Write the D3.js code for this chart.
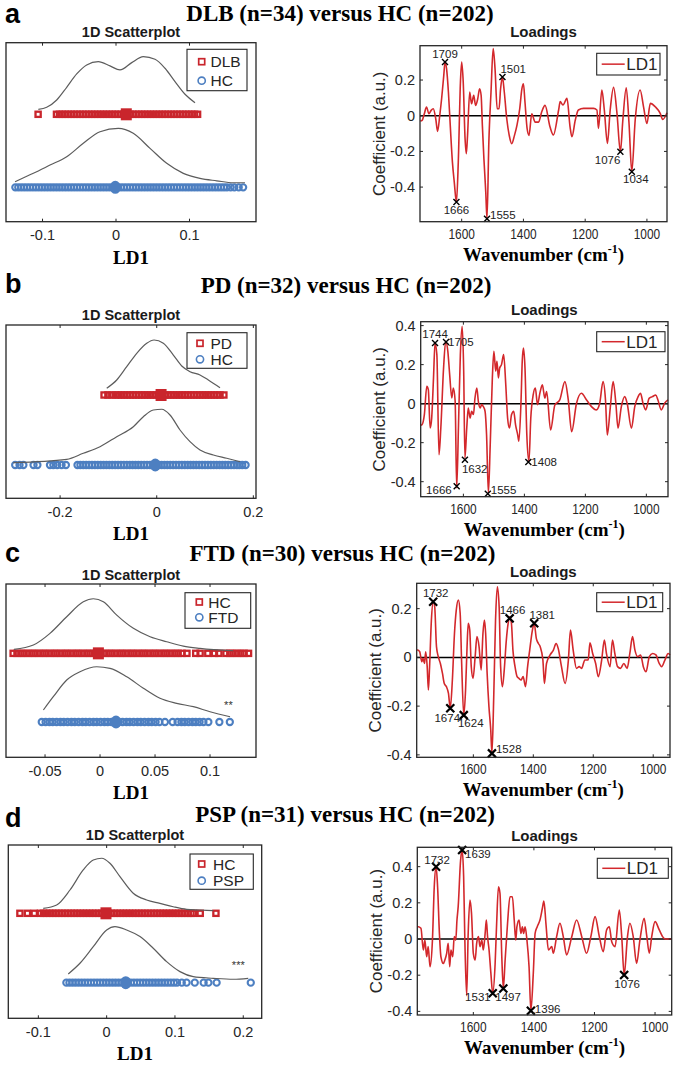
<!DOCTYPE html>
<html><head><meta charset="utf-8">
<script src="https://cdn.jsdelivr.net/npm/d3@7"></script>
<style>body{margin:0;background:#fff}</style>
</head><body>
<script>
// ================= DATA =================
const panelLetters = ['a','b','c','d'];
const titles = ['DLB (n=34) versus HC (n=202)','PD (n=32) versus HC (n=202)','FTD (n=30) versus HC (n=202)','PSP (n=31) versus HC (n=202)'];
const groupNames = [['DLB','HC'],['PD','HC'],['HC','FTD'],['HC','PSP']];
const sigLabels = ['', '', '**', '***'];
const sigPositions = [null, null, [0.1167, 1.28], [0.1927, 1.289]];
const scatterTicks = [[-0.1,0,0.1],[-0.2,0,0.2],[-0.05,0,0.05,0.1],[-0.1,0,0.1,0.2]];
const loadXTicks = [1600,1400,1200,1000];
const loadYTicks = [[-0.4,-0.2,0,0.2],[-0.4,-0.2,0,0.2,0.4],[-0.4,-0.2,0,0.2],[-0.4,-0.2,0,0.2,0.4]];
const legendLoad = 'LD1';

// scatter values (LD1 scores)
const ptsA_top = [-0.106,-0.081,-0.077,-0.073,-0.069,-0.065,-0.061,-0.057,-0.053,-0.049,-0.045,-0.041,-0.037,-0.033,-0.029,-0.025,-0.021,-0.017,-0.013,-0.009,-0.005,-0.001,0.003,0.007,0.011,0.015,0.019,0.023,0.027,0.031,0.035,0.039,0.043,0.047,0.051,0.055,0.059,0.063,0.067,0.071,0.075,0.079,0.083,0.087,0.091,0.095,0.099,0.103,0.107,0.111];
const ptsA_bot = [-0.137,-0.133,-0.129,-0.125,-0.121,-0.117,-0.113,-0.109,-0.105,-0.101,-0.097,-0.093,-0.089,-0.085,-0.081,-0.077,-0.073,-0.069,-0.065,-0.061,-0.057,-0.053,-0.049,-0.045,-0.041,-0.037,-0.033,-0.029,-0.025,-0.021,-0.017,-0.013,-0.009,-0.005,-0.001,0.003,0.007,0.011,0.015,0.019,0.023,0.027,0.031,0.035,0.039,0.043,0.047,0.051,0.055,0.059,0.063,0.067,0.071,0.075,0.079,0.083,0.087,0.091,0.095,0.099,0.103,0.107,0.111,0.115,0.119,0.123,0.127,0.131,0.135,0.139,0.143,0.147,0.151,0.156,0.161,0.167,0.173];
const ptsB_top = [-0.109,-0.101,-0.093,-0.085,-0.079,-0.073,-0.067,-0.061,-0.055,-0.049,-0.043,-0.037,-0.031,-0.025,-0.019,-0.013,-0.007,-0.001,0.005,0.011,0.017,0.023,0.029,0.035,0.041,0.047,0.053,0.059,0.065,0.071,0.077,0.083,0.089,0.095,0.101,0.107,0.113,0.119,0.125,0.131,0.139];
const ptsB_bot = [-0.293,-0.284,-0.276,-0.255,-0.247,-0.221,-0.214,-0.206,-0.197,-0.188,-0.164,-0.158,-0.152,-0.146,-0.140,-0.134,-0.128,-0.122,-0.116,-0.110,-0.104,-0.098,-0.092,-0.086,-0.080,-0.074,-0.068,-0.062,-0.056,-0.050,-0.044,-0.038,-0.032,-0.026,-0.020,-0.014,-0.008,-0.002,0.004,0.010,0.016,0.022,0.028,0.034,0.040,0.046,0.052,0.058,0.064,0.070,0.076,0.082,0.088,0.094,0.100,0.106,0.112,0.118,0.124,0.130,0.136,0.142,0.148,0.154,0.160,0.166,0.171,0.177,0.184];
const ptsC_top = [-0.079,-0.0755,-0.072,-0.069,-0.0655,-0.062,-0.059,-0.0555,-0.052,-0.049,-0.0455,-0.042,-0.039,-0.0355,-0.032,-0.029,-0.0255,-0.022,-0.019,-0.0155,-0.012,-0.009,-0.0055,-0.002,0.001,0.0045,0.008,0.011,0.0145,0.018,0.021,0.0245,0.028,0.031,0.0345,0.038,0.041,0.0445,0.048,0.051,0.0545,0.058,0.061,0.0645,0.068,0.071,0.0745,0.079,0.087,0.091,0.098,0.104,0.108,0.1145,0.118,0.121,0.1245,0.128,0.131,0.135];
const ptsC_bot = [-0.053,-0.0495,-0.046,-0.043,-0.0395,-0.036,-0.033,-0.0295,-0.026,-0.023,-0.0195,-0.016,-0.013,-0.0095,-0.006,-0.003,0.0005,0.004,0.007,0.0105,0.014,0.017,0.0205,0.024,0.027,0.0305,0.034,0.037,0.0405,0.044,0.047,0.0505,0.054,0.059,0.066,0.0705,0.074,0.077,0.0805,0.084,0.087,0.0905,0.094,0.0985,0.1085,0.118];
const ptsD_top = [-0.127,-0.116,-0.106,-0.097,-0.0925,-0.088,-0.0835,-0.079,-0.0745,-0.070,-0.0655,-0.061,-0.0565,-0.052,-0.0475,-0.043,-0.0385,-0.034,-0.0295,-0.025,-0.0205,-0.016,-0.0115,-0.007,-0.0025,0.002,0.0065,0.011,0.0155,0.020,0.0245,0.029,0.0335,0.038,0.0425,0.047,0.0515,0.056,0.0605,0.065,0.0695,0.074,0.0785,0.083,0.0875,0.092,0.0965,0.101,0.1055,0.110,0.1145,0.119,0.1235,0.127,0.137,0.160];
const ptsD_bot = [-0.059,-0.0545,-0.050,-0.0455,-0.041,-0.0365,-0.032,-0.0275,-0.023,-0.0185,-0.014,-0.0095,-0.005,-0.0005,0.004,0.0085,0.013,0.0175,0.022,0.0265,0.031,0.0355,0.040,0.0445,0.049,0.0535,0.058,0.0625,0.067,0.0715,0.076,0.0805,0.085,0.0895,0.094,0.0985,0.103,0.110,0.117,0.129,0.142,0.149,0.161,0.211];
const groupMeans = [[0.014,-0.001],[0.009,-0.003],[-0.0015,0.0145],[-0.001,0.028]];

// density curves [LD1, height above row]
const densA_top = [[-0.1057,0.068],[-0.0943,0.096],[-0.0807,0.196],[-0.0671,0.37],[-0.0535,0.552],[-0.0399,0.675],[-0.0241,0.72],[-0.0082,0.662],[0.0054,0.607],[0.0214,0.707],[0.0371,0.789],[0.0531,0.753],[0.0667,0.63],[0.0803,0.447],[0.0939,0.274],[0.1075,0.159]];
const densA_bot = [[-0.1374,0.077],[-0.1125,0.192],[-0.0898,0.305],[-0.0671,0.419],[-0.0445,0.603],[-0.0218,0.762],[0.0031,0.808],[0.0235,0.74],[0.0463,0.534],[0.069,0.329],[0.0916,0.192],[0.1143,0.123],[0.1371,0.09],[0.1596,0.063],[0.1755,0.063]];
const densB_top = [[-0.1035,0.096],[-0.0828,0.214],[-0.0621,0.404],[-0.0414,0.596],[-0.0207,0.739],[-0.0056,0.786],[0.0137,0.739],[0.0344,0.571],[0.0518,0.414],[0.0689,0.333],[0.0896,0.286],[0.1068,0.214],[0.131,0.104]];
const densB_bot = [[-0.2969,0.033],[-0.1863,0.081],[-0.152,0.167],[-0.1174,0.261],[-0.0828,0.404],[-0.0484,0.547],[-0.0277,0.69],[-0.007,0.786],[0.0104,0.796],[0.0275,0.714],[0.0482,0.5],[0.0689,0.333],[0.0896,0.214],[0.1172,0.143],[0.1449,0.096],[0.1725,0.047]];
const densC_top = [[-0.0782,0.058],[-0.0606,0.121],[-0.0455,0.291],[-0.0303,0.533],[-0.0152,0.751],[-0.0061,0.795],[0.003,0.751],[0.0152,0.557],[0.0303,0.364],[0.0455,0.242],[0.0606,0.169],[0.0757,0.106],[0.0909,0.073],[0.1212,0.038]];
const densC_bot = [[-0.0515,0.175],[-0.0425,0.368],[-0.0303,0.611],[-0.0182,0.732],[-0.003,0.805],[0.0091,0.782],[0.0243,0.659],[0.0394,0.491],[0.0545,0.345],[0.0697,0.272],[0.0848,0.223],[0.1,0.15],[0.1182,0.077]];
const densD_top = [[-0.0928,0.072],[-0.0732,0.12],[-0.0537,0.336],[-0.0343,0.625],[-0.0196,0.769],[-0.0073,0.794],[0.0048,0.722],[0.0195,0.528],[0.0389,0.289],[0.0586,0.192],[0.078,0.144],[0.0975,0.095],[0.1171,0.058],[0.1366,0.048],[0.1561,0.038]];
const densD_bot = [[-0.0562,0.126],[-0.0391,0.28],[-0.0196,0.519],[0,0.76],[0.0122,0.808],[0.0293,0.76],[0.0488,0.664],[0.0682,0.496],[0.0878,0.303],[0.1073,0.159],[0.1268,0.087],[0.1561,0.063],[0.1854,0.049],[0.2073,0.063]];

// loadings [wavenumber axis value, coefficient]
const loadA = [[1734,-0.03],[1728,-0.026],[1721,0.011],[1714,0.049],[1706,0.011],[1699,0.03],[1692,0.039],[1684,-0.017],[1678,-0.088],[1671,0.002],[1665,0.095],[1658,0.226],[1654,0.301],[1649,0.264],[1643,0.133],[1637,-0.054],[1630,-0.26],[1624,-0.372],[1617,-0.484],[1611,-0.26],[1604,0.189],[1600,0.301],[1595,0.189],[1589,-0.129],[1585,-0.213],[1581,-0.11],[1574,0.133],[1568,0.067],[1561,0.114],[1555,0.058],[1548,0.095],[1542,0.151],[1537,0.114],[1533,-0.054],[1528,-0.241],[1522,-0.428],[1518,-0.578],[1512,-0.148],[1505,0.133],[1498,0.376],[1492,0.264],[1485,0.039],[1479,0.039],[1474,0.151],[1468,0.217],[1462,0.133],[1454,-0.017],[1446,-0.11],[1438,-0.157],[1429,-0.11],[1421,-0.054],[1412,0.039],[1405,0.151],[1400,0.179],[1395,0.077],[1388,-0.073],[1382,-0.11],[1373,0.011],[1362,-0.036],[1351,-0.036],[1341,0.021],[1330,0.058],[1314,-0.062],[1303,-0.108],[1286,0.032],[1281,0.079],[1272,0.06],[1259,0.097],[1249,-0.062],[1243,-0.118],[1232,-0.024],[1222,0.032],[1205,0.041],[1173,0.041],[1162,0.032],[1157,-0.071],[1146,0.144],[1138,0.032],[1128,-0.155],[1119,0.032],[1108,0.159],[1097,0.013],[1086,-0.202],[1078,-0.024],[1067,0.157],[1058,-0.043],[1049,-0.314],[1038,-0.024],[1022,0.144],[1011,0.05],[1000,-0.043],[989,0.069],[973,0.05],[957,0.013],[949,-0.021],[935,0.017]];
const loadB = [[1740,-0.11],[1736,-0.108],[1728,-0.056],[1720,0.089],[1715,0.072],[1709,-0.125],[1704,-0.074],[1698,0.132],[1693,0.311],[1687,0.251],[1680,-0.262],[1674,-0.125],[1665,0.183],[1658,0.32],[1651,0.268],[1645,0.149],[1638,0.029],[1633,0.08],[1627,0.012],[1622,-0.432],[1616,-0.108],[1610,0.251],[1604,0.397],[1599,0.166],[1595,-0.279],[1589,-0.125],[1584,-0.022],[1578,-0.074],[1573,-0.039],[1567,-0.056],[1562,0.029],[1556,0.08],[1551,0.012],[1545,-0.022],[1540,-0.005],[1535,-0.014],[1529,-0.039],[1524,-0.159],[1518,-0.458],[1512,-0.21],[1505,0.132],[1500,0.268],[1494,0.166],[1490,0.217],[1485,0.132],[1481,0.183],[1475,0.2],[1468,0.251],[1461,0.097],[1455,-0.074],[1449,-0.125],[1442,-0.056],[1435,-0.039],[1429,-0.108],[1422,-0.159],[1418,-0.193],[1411,0.012],[1407,0.217],[1403,0.285],[1398,0.183],[1392,-0.159],[1385,-0.296],[1379,-0.074],[1371,0.046],[1364,0.08],[1357,-0.005],[1349,0.055],[1341,0.097],[1333,0.029],[1327,0.062],[1314,-0.135],[1300,-0.007],[1284,0.019],[1267,0.113],[1256,0.019],[1245,-0.144],[1229,0.002],[1213,0.053],[1196,0.019],[1180,-0.015],[1164,-0.032],[1153,0.002],[1142,0.113],[1134,0.019],[1128,-0.161],[1118,-0.015],[1109,0.113],[1100,0.002],[1093,-0.126],[1082,-0.015],[1071,0.036],[1063,0.002],[1049,-0.126],[1038,-0.015],[1027,0.036],[1019,0.053],[1011,0.002],[1002,-0.032],[991,0.027],[980,0.036],[969,0.044],[962,0.019],[951,-0.032],[940,0.002],[929,0.019]];
const loadC = [[1788,0.03],[1786,0.03],[1779,0.023],[1772,-0.018],[1768,-0.004],[1763,-0.025],[1759,0.023],[1754,-0.038],[1750,-0.134],[1746,-0.038],[1740,0.153],[1734,0.228],[1729,0.208],[1723,0.044],[1717,0.003],[1710,-0.025],[1703,-0.066],[1697,-0.107],[1690,-0.12],[1683,-0.148],[1677,-0.209],[1670,-0.093],[1663,0.098],[1657,0.194],[1650,0.235],[1644,0.181],[1639,-0.025],[1632,-0.237],[1626,-0.134],[1621,0.044],[1617,0.14],[1612,0.112],[1607,-0.038],[1601,-0.086],[1594,0.003],[1588,0.085],[1581,0.044],[1574,-0.052],[1568,0.098],[1563,0.153],[1559,0.098],[1554,-0.066],[1548,-0.202],[1542,-0.298],[1538,-0.394],[1532,-0.161],[1526,0.153],[1520,0.29],[1514,0.208],[1509,-0.038],[1503,-0.12],[1497,-0.052],[1490,0.071],[1484,0.14],[1479,0.167],[1473,0.14],[1468,0.03],[1461,-0.038],[1454,-0.079],[1448,-0.086],[1441,-0.093],[1434,-0.079],[1426,-0.12],[1419,-0.038],[1412,0.03],[1403,0.112],[1397,0.14],[1390,0.078],[1383,0.057],[1377,0.044],[1368,-0.011],[1363,-0.107],[1356,-0.025],[1344,0.01],[1333,0.03],[1324,0.057],[1317,0.037],[1306,-0.038],[1294,-0.107],[1283,-0.011],[1276,0.112],[1267,0.03],[1256,-0.045],[1247,-0.038],[1239,-0.045],[1228,-0.011],[1217,-0.011],[1211,0.06],[1202,0.016],[1192,-0.025],[1183,-0.079],[1172,-0.011],[1163,0.071],[1156,0.016],[1144,-0.038],[1136,0.071],[1128,0.016],[1119,-0.038],[1109,-0.045],[1098,-0.025],[1087,-0.045],[1078,0.016],[1069,0.085],[1061,0.03],[1052,0.003],[1042,0.01],[1033,-0.038],[1024,-0.059],[1013,0.003],[1002,0.016],[991,0.01],[980,-0.025],[972,-0.038],[961,-0.011],[950,0.016],[944,0.01]];
const loadD = [[1785,0.068],[1782,0.068],[1773,0.059],[1765,-0.061],[1760,-0.006],[1754,-0.098],[1749,-0.042],[1743,-0.153],[1735,-0.006],[1729,0.289],[1723,0.4],[1718,0.289],[1712,0.031],[1707,-0.098],[1699,-0.135],[1694,-0.116],[1688,-0.079],[1683,-0.024],[1678,-0.153],[1674,-0.061],[1668,-0.098],[1663,0.013],[1658,-0.006],[1654,0.105],[1650,0.179],[1642,0.437],[1637,0.492],[1632,0.345],[1628,-0.006],[1622,-0.313],[1617,0.031],[1611,0.216],[1606,0.142],[1600,-0.079],[1594,-0.116],[1589,-0.024],[1583,0.013],[1578,-0.042],[1572,-0.006],[1567,-0.061],[1561,0.031],[1557,0.105],[1553,0.013],[1548,-0.061],[1542,-0.19],[1536,-0.30],[1528,-0.135],[1523,0.087],[1517,0.289],[1512,0.253],[1506,-0.098],[1501,-0.273],[1495,-0.116],[1487,0.087],[1479,0.234],[1471,0.234],[1465,0.105],[1460,-0.006],[1456,0.068],[1449,0.105],[1443,0.031],[1438,0.068],[1434,0.031],[1429,0.068],[1423,-0.006],[1416,-0.153],[1410,-0.396],[1402,-0.19],[1396,0.031],[1389,0.068],[1380,0.105],[1372,0.17],[1367,0.21],[1360,0.08],[1352,-0.061],[1341,-0.042],[1336,-0.079],[1325,0.013],[1314,0.087],[1303,0.013],[1292,-0.088],[1275,0.013],[1259,0.105],[1242,0.013],[1226,-0.079],[1212,0.013],[1198,0.124],[1184,0.013],[1171,-0.07],[1160,0.05],[1151,0.068],[1143,-0.015],[1132,-0.042],[1118,0.16],[1110,0.013],[1102,-0.199],[1091,0.013],[1083,0.087],[1072,0.013],[1061,-0.135],[1050,-0.006],[1036,0.114],[1027,0.013],[1019,-0.079],[1011,0.013],[1000,0.096],[986,0.05],[975,0.013],[967,0],[945,0]];

// marked peaks [axis position, coefficient, label]
const peaksA = [[1654,0.301,'1709'],[1617,-0.484,'1666'],[1518,-0.578,'1555'],[1468,0.217,'1501'],[1086,-0.202,'1076'],[1049,-0.314,'1034']];
const peaksB = [[1693,0.311,'1744'],[1657,0.316,'1705'],[1595,-0.287,'1632'],[1622,-0.424,'1666'],[1520,-0.462,'1555'],[1387,-0.299,'1408']];
const peaksC = [[1734,0.228,'1732'],[1677,-0.209,'1674'],[1632,-0.237,'1624'],[1538,-0.394,'1528'],[1479,0.16,'1466'],[1397,0.14,'1381']];
const peaksD = [[1723,0.4,'1732'],[1637,0.492,'1639'],[1536,-0.30,'1531'],[1501,-0.273,'1497'],[1410,-0.396,'1396'],[1102,-0.199,'1076']];

// ================= LAYOUT / STYLE =================
const SANS = "'Liberation Sans', Arial, Helvetica, sans-serif";
const SERIF = "'Liberation Serif', 'Times New Roman', serif";
const RED = '#c9252c', BLUE = '#4d7fc1', LRED = '#d3282c', AX = '#262626', DENS = '#5c5c5c';

const scatterBox = [{x0:6,x1:256,y0:42.7,y1:221.7},{x0:6,x1:256,y0:325,y1:498.3},{x0:6,x1:256,y0:584,y1:757.3},{x0:8.3,x1:261.7,y0:845,y1:1018.3}];
const scatterXDom = [[-0.1497,0.1905],[-0.312,0.2055],[-0.0855,0.1418],[-0.144,0.227]];
const scatterYDom = [[0.53,2.98],[0.524,3.0],[0.486,3.01],[0.486,2.985]];
const scatterLegend = [{x0:187,y0:49.3,x1:247,y1:90.7,r1:61.7,r2:80.7,mx:201.7,tx:210.5},{x0:187,y0:332.7,x1:247,y1:368.3,r1:343.3,r2:359.3,mx:200,tx:210.5},{x0:185,y0:592.7,x1:250.7,y1:628.3,r1:602,r2:617.3,mx:199.3,tx:208.3},{x0:190,y0:854,x1:253.3,y1:889.3,r1:864,r2:880.7,mx:201.7,tx:213}];
const scatterTitleY = [36.7,320,579.5,840];
const loadBox = [{x0:420,x1:667,y0:45.7,y1:221.7},{x0:420.7,x1:668,y0:321.7,y1:496.7},{x0:416.7,x1:670,y0:583.3,y1:757.3},{x0:417.3,x1:671.7,y0:847.3,y1:1015}];
const loadXDom = [[1735,935],[1740,929],[1789,944],[1785,945]];
const loadYDom = [[-0.594,0.3925],[-0.477,0.42],[-0.41,0.304],[-0.42,0.507]];
const loadLegend = [{x0:596.7,y0:53.3,x1:660,y1:75},{x0:596.7,y0:331.7,x1:665,y1:351.7},{x0:596.7,y0:592.7,x1:662.7,y1:611.7},{x0:597.3,y0:858.3,x1:668.3,y1:878.3}];
const loadTitleY = [37.3,315,576.7,840.7];
const titleX = [340,346,342.5,345];
const titleY = [20.5,293,560.5,822];
const letterY = [23.3,293.3,561.7,826.7];
const peakOffsets = [
  [[0,-4,'middle'],[0,12,'middle'],[3,0,'start'],[-2,-4,'start'],[0,12,'end'],[4,11,'middle']],
  [[0,-5,'middle'],[2,4,'start'],[-3,13,'start'],[-5,8,'end'],[3,0,'start'],[3,4,'start']],
  [[2.5,-5,'middle'],[-3,14,'middle'],[7,12,'middle'],[4,0,'start'],[3,-4,'middle'],[8,-4,'middle']],
  [[1,-3,'middle'],[3,8,'start'],[-2,8,'end'],[-8,13,'start'],[4,2,'start'],[3,13,'middle']]
];
const xMarkSize = [3,3,4,4], xMarkW = [1.4,1.4,2.2,2.2];

const scatterPts = [[ptsA_top,ptsA_bot],[ptsB_top,ptsB_bot],[ptsC_top,ptsC_bot],[ptsD_top,ptsD_bot]];
const scatterDens = [[densA_top,densA_bot],[densB_top,densB_bot],[densC_top,densC_bot],[densD_top,densD_bot]];
const loads = [loadA,loadB,loadC,loadD];
const peaks = [peaksA,peaksB,peaksC,peaksD];

// ================= DRAW =================
const svg = d3.select('body').append('svg').attr('width',677).attr('height',1066);

function txt(parent, x, y, str, o={}) {
  let tr = `translate(${x},${y})`;
  if (o.rot) tr += ` rotate(${o.rot})`;
  if (o.sx) tr += ` scale(${o.sx},1)`;
  return parent.append('text').attr('transform', tr)
    .attr('text-anchor', o.anchor || 'start')
    .attr('font-family', o.family || SANS)
    .attr('font-size', o.size || 14)
    .attr('font-weight', o.weight || 'normal')
    .attr('fill', o.fill || AX)
    .text(str);
}

function scatterPanel(i) {
  const g = svg.append('g');
  const b = scatterBox[i];
  const x = d3.scaleLinear().domain(scatterXDom[i]).range([b.x0, b.x1]);
  const y = d3.scaleLinear().domain(scatterYDom[i]).range([b.y1, b.y0]);
  const levels = [2, 1];
  [0,1].forEach(k => {
    const yy = y(levels[k]);
    const vals = scatterPts[i][k];
    const m = groupMeans[i][k];
    if (k === 0) {
      g.selectAll(null).data(vals).join('rect')
        .attr('x', d => x(d) - 2.6).attr('y', yy - 2.6).attr('width', 5.2).attr('height', 5.2)
        .attr('fill', 'none').attr('stroke', RED).attr('stroke-width', 2.3);
      g.append('rect').attr('x', x(m) - 5.5).attr('y', yy - 6).attr('width', 11).attr('height', 12).attr('fill', RED);
    } else {
      g.selectAll(null).data(vals).join('circle')
        .attr('cx', d => x(d)).attr('cy', yy).attr('r', 3.1)
        .attr('fill', 'none').attr('stroke', BLUE).attr('stroke-width', 2.1);
      g.append('ellipse').attr('cx', x(m)).attr('cy', yy).attr('rx', 5.5).attr('ry', 6.5).attr('fill', BLUE);
    }
    const line = d3.line().x(d => x(d[0])).y(d => y(levels[k] + d[1])).curve(d3.curveMonotoneX);
    g.append('path').attr('d', line(scatterDens[i][k])).attr('fill', 'none').attr('stroke', DENS).attr('stroke-width', 1.2);
  });
  if (sigLabels[i]) {
    const p = sigPositions[i];
    txt(g, x(p[0]), y(p[1]) + 6, sigLabels[i], {anchor: 'middle', size: 11, fill: '#333'});
  }
  g.append('rect').attr('x', b.x0).attr('y', b.y0).attr('width', b.x1 - b.x0).attr('height', b.y1 - b.y0)
    .attr('fill', 'none').attr('stroke', AX).attr('stroke-width', 1.3);
  scatterTicks[i].forEach(t => {
    const xx = x(t);
    g.append('line').attr('x1', xx).attr('x2', xx).attr('y1', b.y1).attr('y2', b.y1 - 3).attr('stroke', AX).attr('stroke-width', 1);
    g.append('line').attr('x1', xx).attr('x2', xx).attr('y1', b.y0).attr('y2', b.y0 + 3).attr('stroke', AX).attr('stroke-width', 1);
    txt(g, xx, b.y1 + 18.5, String(t), {anchor: 'middle', size: 14.5});
  });
  const L = scatterLegend[i];
  g.append('rect').attr('x', L.x0).attr('y', L.y0).attr('width', L.x1 - L.x0).attr('height', L.y1 - L.y0)
    .attr('fill', '#fff').attr('stroke', AX).attr('stroke-width', 1.1);
  g.append('rect').attr('x', L.mx - 3).attr('y', L.r1 - 3).attr('width', 6).attr('height', 6)
    .attr('fill', 'none').attr('stroke', RED).attr('stroke-width', 1.7);
  g.append('circle').attr('cx', L.mx).attr('cy', L.r2).attr('r', 3.6)
    .attr('fill', 'none').attr('stroke', BLUE).attr('stroke-width', 1.6);
  txt(g, L.tx, L.r1 + 5.5, groupNames[i][0], {size: 15.5});
  txt(g, L.tx, L.r2 + 5.5, groupNames[i][1], {size: 15.5});
  txt(g, (b.x0 + b.x1) / 2, scatterTitleY[i], '1D Scatterplot', {anchor: 'middle', size: 14.5, weight: 'bold', fill: '#1a1a1a'});
  txt(g, (b.x0 + b.x1) / 2, b.y1 + 42, 'LD1', {anchor: 'middle', size: 19, weight: 'bold', family: SERIF, fill: '#000'});
}

function loadPanel(i) {
  const g = svg.append('g');
  const b = loadBox[i];
  const x = d3.scaleLinear().domain(loadXDom[i]).range([b.x0, b.x1]);
  const y = d3.scaleLinear().domain(loadYDom[i]).range([b.y1, b.y0]);
  g.append('line').attr('x1', b.x0).attr('x2', b.x1).attr('y1', y(0)).attr('y2', y(0)).attr('stroke', '#000').attr('stroke-width', 1.5);
  const line = d3.line().x(d => x(d[0])).y(d => y(d[1])).curve(d3.curveMonotoneX);
  g.append('path').attr('d', line(loads[i])).attr('fill', 'none').attr('stroke', LRED).attr('stroke-width', 1.6).attr('stroke-linejoin', 'round');
  const s = xMarkSize[i];
  peaks[i].forEach((p, k) => {
    const px = x(p[0]), py = y(p[1]);
    g.append('path').attr('d', `M${px - s},${py - s}L${px + s},${py + s}M${px - s},${py + s}L${px + s},${py - s}`)
      .attr('stroke', '#000').attr('stroke-width', xMarkW[i]);
    const o = peakOffsets[i][k];
    txt(g, px + o[0], py + o[1], p[2], {anchor: o[2], size: 11.5, fill: '#222'});
  });
  g.append('rect').attr('x', b.x0).attr('y', b.y0).attr('width', b.x1 - b.x0).attr('height', b.y1 - b.y0)
    .attr('fill', 'none').attr('stroke', AX).attr('stroke-width', 1.3);
  loadXTicks.forEach(t => {
    const xx = x(t);
    g.append('line').attr('x1', xx).attr('x2', xx).attr('y1', b.y1).attr('y2', b.y1 - 3).attr('stroke', AX);
    g.append('line').attr('x1', xx).attr('x2', xx).attr('y1', b.y0).attr('y2', b.y0 + 3).attr('stroke', AX);
    txt(g, xx, b.y1 + 17, String(t), {anchor: 'middle', size: 14, sx: 0.85});
  });
  loadYTicks[i].forEach(t => {
    const yy = y(t);
    g.append('line').attr('x1', b.x0).attr('x2', b.x0 + 3).attr('y1', yy).attr('y2', yy).attr('stroke', AX);
    g.append('line').attr('x1', b.x1).attr('x2', b.x1 - 3).attr('y1', yy).attr('y2', yy).attr('stroke', AX);
    txt(g, b.x0 - 5, yy + 5, String(t), {anchor: 'end', size: 14.5});
  });
  const L = loadLegend[i];
  const cy = (L.y0 + L.y1) / 2;
  g.append('rect').attr('x', L.x0).attr('y', L.y0).attr('width', L.x1 - L.x0).attr('height', L.y1 - L.y0)
    .attr('fill', '#fff').attr('stroke', AX).attr('stroke-width', 1.1);
  g.append('line').attr('x1', L.x0 + 5).attr('x2', L.x0 + 28).attr('y1', cy).attr('y2', cy).attr('stroke', LRED).attr('stroke-width', 1.5);
  txt(g, L.x0 + 29.5, cy + 6, legendLoad, {size: 17});
  const cx = (b.x0 + b.x1) / 2;
  txt(g, cx, loadTitleY[i], 'Loadings', {anchor: 'middle', size: 15, weight: 'bold', fill: '#1a1a1a'});
  txt(g, b.x0 - 35.5, (b.y0 + b.y1) / 2, 'Coefficient (a.u.)', {anchor: 'middle', size: 17, rot: -90});
  const xl = txt(g, cx, b.y1 + 39, '', {anchor: 'middle', size: 19, weight: 'bold', family: SERIF, fill: '#000'});
  xl.append('tspan').text('Wavenumber (cm');
  xl.append('tspan').attr('font-size', 12).attr('dy', -8).text('-1');
  xl.append('tspan').attr('dy', 8).text(')');
}

for (let i = 0; i < 4; i++) {
  txt(svg, 5, letterY[i], panelLetters[i], {size: 27, weight: 'bold', fill: '#000'});
  txt(svg, titleX[i], titleY[i], titles[i], {anchor: 'middle', size: 23, weight: 'bold', family: SERIF, fill: '#000'});
  scatterPanel(i);
  loadPanel(i);
}
</script>
</body></html>
